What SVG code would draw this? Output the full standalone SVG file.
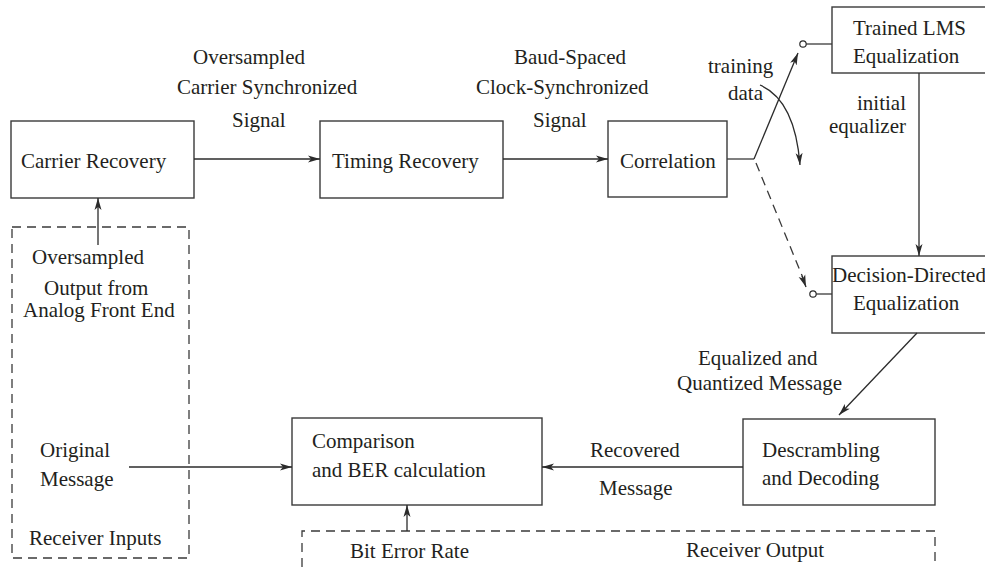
<svg xmlns="http://www.w3.org/2000/svg" width="985" height="567" viewBox="0 0 985 567">
<defs>
<marker id="ah" viewBox="0 0 12 8" refX="12" refY="4" markerWidth="12" markerHeight="8" markerUnits="userSpaceOnUse" orient="auto">
<path d="M0,0.5 L12,4 L0,7.5 L3,4 Z" fill="#2b2b2b"/>
</marker>
</defs>
<style>
text{font-family:'Liberation Serif','DejaVu Serif',serif;font-size:21px;fill:#231f20}
.box{fill:#fff;stroke:#3a3a3a;stroke-width:1.4}
.ln{fill:none;stroke:#3a3a3a;stroke-width:1.3}
.arr{fill:none;stroke:#2b2b2b;stroke-width:1.3;marker-end:url(#ah)}
.dash{fill:none;stroke:#3a3a3a;stroke-width:1.3;stroke-dasharray:9 6}
.dot{fill:#fff;stroke:#2b2b2b;stroke-width:1.2}
</style>
<rect width="985" height="567" fill="#fff"/>
<g font-family="Liberation Serif, DejaVu Serif, serif">

<g id="receiver-inputs">
<path class="dash" d="M12,227 H189 V558 H12 Z"/>
<text x="32" y="264">Oversampled</text>
<text x="44" y="295">Output from</text>
<text x="23" y="317">Analog Front End</text>
<text x="40" y="457">Original</text>
<text x="40" y="486">Message</text>
<text x="29" y="545">Receiver Inputs</text>
</g>

<g id="receiver-output">
<path class="dash" d="M302,567 V531 H935 V567"/>
<text x="350" y="558">Bit Error Rate</text>
<text x="686" y="557">Receiver Output</text>
</g>

<g id="carrier-recovery">
<rect class="box" x="11" y="121" width="183" height="77"/>
<text x="21" y="168">Carrier Recovery</text>
</g>

<g id="timing-recovery">
<rect class="box" x="320" y="121" width="183" height="77"/>
<text x="332" y="168">Timing Recovery</text>
</g>

<g id="correlation">
<rect class="box" x="608" y="121" width="119" height="76"/>
<text x="620" y="168">Correlation</text>
</g>

<g id="trained-lms">
<rect class="box" x="832" y="7" width="160" height="66"/>
<text x="853" y="35">Trained LMS</text>
<text x="853" y="63">Equalization</text>
</g>

<g id="decision-directed">
<rect class="box" x="832" y="256" width="160" height="77"/>
<text x="832" y="282">Decision-Directed</text>
<text x="853" y="310">Equalization</text>
</g>

<g id="descrambling">
<rect class="box" x="743" y="419" width="192" height="86"/>
<text x="762" y="457">Descrambling</text>
<text x="762" y="485">and Decoding</text>
</g>

<g id="comparison">
<rect class="box" x="292" y="418" width="250" height="87"/>
<text x="312" y="448">Comparison</text>
<text x="312" y="477">and BER calculation</text>
</g>

<g id="labels">
<text x="193" y="64">Oversampled</text>
<text x="177" y="94">Carrier Synchronized</text>
<text x="232" y="127">Signal</text>
<text x="514" y="64">Baud-Spaced</text>
<text x="476" y="94">Clock-Synchronized</text>
<text x="533" y="127">Signal</text>
<text x="708" y="73">training</text>
<text x="728" y="100">data</text>
<text x="857" y="110">initial</text>
<text x="829" y="133">equalizer</text>
<text x="698" y="365">Equalized and</text>
<text x="677" y="390">Quantized Message</text>
<text x="590" y="457">Recovered</text>
<text x="599" y="495">Message</text>
</g>

<g id="connectors">
<line class="arr" x1="98" y1="245" x2="98" y2="198"/>
<line class="arr" x1="194" y1="159" x2="320" y2="159"/>
<line class="arr" x1="503" y1="159" x2="608" y2="159"/>
<polyline class="ln" points="727,159 754,159"/>
<line class="arr" x1="754" y1="159" x2="798" y2="53"/>
<line class="dash" x1="756" y1="163" x2="803" y2="278" stroke-dasharray="9 7"/>
<line class="arr" x1="802" y1="276" x2="806" y2="287"/>
<circle class="dot" cx="803" cy="44" r="3.2"/>
<line class="ln" x1="806" y1="44" x2="832" y2="44"/>
<circle class="dot" cx="813" cy="294" r="3.2"/>
<line class="ln" x1="816" y1="294" x2="832" y2="294"/>
<path class="arr" d="M760,85 Q795,100 800,165"/>
<line class="arr" x1="919" y1="73" x2="919" y2="256"/>
<line class="arr" x1="917" y1="333" x2="839" y2="415"/>
<line class="arr" x1="743" y1="467" x2="542" y2="467"/>
<line class="arr" x1="129" y1="467" x2="292" y2="467"/>
<line class="arr" x1="407" y1="531" x2="407" y2="505"/>
</g>
</g>
</svg>
